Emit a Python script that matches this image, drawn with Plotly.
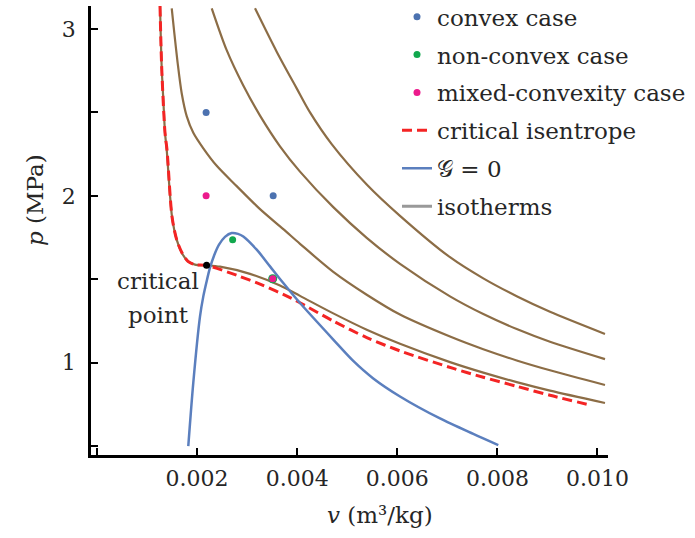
import plotly.graph_objects as go

# ---------------- data (v in m^3/kg, p in MPa) ----------------
v_iso_c = [0.001259, 0.001292, 0.001325, 0.001359, 0.001393, 0.001499, 0.001592, 0.001692,
           0.001818, 0.001958, 0.002192, 0.002458, 0.003057, 0.003656, 0.004056, 0.004721,
           0.005389, 0.006054, 0.007053, 0.007718, 0.008386, 0.009051, 0.010150]
p_iso_c = [3.138, 2.774, 2.575, 2.377, 2.275, 1.874, 1.737, 1.659,
           1.607, 1.587, 1.583, 1.575, 1.532, 1.462, 1.400, 1.295,
           1.197, 1.113, 1.003, 0.940, 0.883, 0.832, 0.758]

v_iso_2 = [0.001493, 0.001545, 0.001610, 0.001692, 0.001792, 0.001924, 0.002124, 0.002392,
           0.002791, 0.003257, 0.003722, 0.004056, 0.004721, 0.005389, 0.006054, 0.007053,
           0.007718, 0.008386, 0.009051, 0.010150]
p_iso_2 = [3.124, 2.976, 2.800, 2.615, 2.478, 2.378, 2.285, 2.180,
           2.058, 1.920, 1.800, 1.712, 1.544, 1.407, 1.288, 1.156,
           1.080, 1.013, 0.954, 0.866]

v_iso_3 = [0.002292, 0.002591, 0.002923, 0.003257, 0.003656, 0.004056, 0.004721, 0.005389,
           0.006054, 0.007053, 0.007718, 0.008386, 0.009051, 0.010150]
p_iso_3 = [3.124, 2.873, 2.661, 2.481, 2.297, 2.145, 1.932, 1.748,
           1.592, 1.397, 1.291, 1.201, 1.125, 1.021]

v_iso_4 = [0.003157, 0.003590, 0.003990, 0.004256, 0.004689, 0.005389, 0.006054, 0.007053,
           0.007718, 0.008386, 0.009051, 0.010150]
p_iso_4 = [3.124, 2.864, 2.644, 2.500, 2.310, 2.068, 1.880, 1.632,
           1.505, 1.398, 1.305, 1.172]

v_isentrope = [0.001259, 0.001292, 0.001359, 0.001399, 0.001499, 0.001592, 0.001698, 0.001818,
               0.001958, 0.002192, 0.002797, 0.003317, 0.003856, 0.004056, 0.004721, 0.005389,
               0.006054, 0.007119, 0.007718, 0.008386, 0.009051, 0.009850]
p_isentrope = [3.138, 2.774, 2.377, 2.275, 1.874, 1.737, 1.659, 1.607,
               1.587, 1.583, 1.523, 1.463, 1.390, 1.359, 1.249, 1.150,
               1.070, 0.965, 0.912, 0.858, 0.804, 0.746]

v_G0 = [0.001824, 0.001924, 0.002058, 0.002124, 0.002198, 0.002258, 0.002338, 0.002438,
        0.002557, 0.002691, 0.002817, 0.002923, 0.003191, 0.003457, 0.003722, 0.004056,
        0.004721, 0.005120, 0.005520, 0.006054, 0.006853, 0.007518, 0.008018]
p_G0 = [0.499, 0.880, 1.277, 1.397, 1.497, 1.569, 1.641, 1.707,
        1.754, 1.777, 1.772, 1.756, 1.677, 1.577, 1.477, 1.357,
        1.138, 1.010, 0.905, 0.797, 0.665, 0.572, 0.505]

v_convex = [0.00218, 0.00352]
p_convex = [2.50, 2.00]
v_nonconvex = [0.00271]
p_nonconvex = [1.737]
v_nonconvex_hidden = [0.00351]
p_nonconvex_hidden = [1.503]
v_mixed = [0.00218, 0.00351]
p_mixed = [2.00, 1.503]
v_crit = [0.00219]
p_crit = [1.583]

x_tickvals = [0.0, 0.002, 0.004, 0.006, 0.008, 0.010]
x_ticktext = ["", "0.002", "0.004", "0.006", "0.008", "0.010"]
y_tickvals = [0.5, 1.0, 1.5, 2.0, 2.5, 3.0]
y_ticktext = ["", "1", "", "2", "", "3"]

# ---------------- styles ----------------
FONT = "DejaVu Serif"
TXT = "#262626"
BROWN = "#8c6d46"
RED = "#f42424"
BLUE_LINE = "#5b7fbe"
BLUE_PT = "#4c72b0"
GREEN = "#11a84e"
MAGENTA = "#ec1a8c"

fig = go.Figure()

for vv, pp in [(v_iso_c, p_iso_c), (v_iso_2, p_iso_2), (v_iso_3, p_iso_3), (v_iso_4, p_iso_4)]:
    fig.add_trace(go.Scatter(x=vv, y=pp, mode="lines", line=dict(color=BROWN, width=2.2,
                             shape="spline", smoothing=0.8), showlegend=False, hoverinfo="skip"))

fig.add_trace(go.Scatter(x=v_isentrope, y=p_isentrope, mode="lines", name="critical isentrope",
                         line=dict(color=RED, width=3, dash="10px,5px", shape="spline", smoothing=0.8),
                         legendgroup="g4", legendrank=4))
fig.add_trace(go.Scatter(x=v_G0, y=p_G0, mode="lines", name="𝒢 = 0",
                         line=dict(color=BLUE_LINE, width=2.5, shape="spline", smoothing=0.8),
                         legendgroup="g5", legendrank=5))
fig.add_trace(go.Scatter(x=[None], y=[None], mode="lines", name="isotherms",
                         line=dict(color="#999999", width=3),
                         legendgroup="g6", legendrank=6))

fig.add_trace(go.Scatter(x=v_convex, y=p_convex, mode="markers", name="convex case",
                         marker=dict(color=BLUE_PT, size=7), legendgroup="g1", legendrank=1))
fig.add_trace(go.Scatter(x=v_nonconvex_hidden, y=p_nonconvex_hidden, mode="markers",
                         marker=dict(color=GREEN, size=9), showlegend=False))
fig.add_trace(go.Scatter(x=v_nonconvex, y=p_nonconvex, mode="markers", name="non-convex case",
                         marker=dict(color=GREEN, size=7), legendgroup="g2", legendrank=2))
fig.add_trace(go.Scatter(x=v_mixed, y=p_mixed, mode="markers", name="mixed-convexity case",
                         marker=dict(color=MAGENTA, size=7), legendgroup="g3", legendrank=3))
fig.add_trace(go.Scatter(x=v_crit, y=p_crit, mode="markers",
                         marker=dict(color="black", size=7), showlegend=False))

axis_common = dict(showline=True, linecolor="black", linewidth=2.5, ticks="inside",
                   ticklen=7, tickwidth=2, tickcolor="black", showgrid=False, zeroline=False,
                   tickfont=dict(family=FONT, size=22, color=TXT))

fig.update_xaxes(range=[-0.00012, 0.01021], tickvals=x_tickvals, ticktext=x_ticktext,
                 ticklabelstandoff=2, **axis_common)
fig.update_yaxes(range=[0.446, 3.138], tickvals=y_tickvals, ticktext=y_ticktext,
                 ticklabelstandoff=8, **axis_common)

fig.add_annotation(text="<i>v</i> (m³/kg)", xref="paper", yref="paper",
                   x=(380 - 91) / 517, y=-(515 - 455) / 449, showarrow=False,
                   font=dict(family=FONT, size=23, color=TXT), xanchor="center", yanchor="middle")
fig.add_annotation(text="<i>p</i> (MPa)", xref="paper", yref="paper",
                   x=-(91 - 35) / 517, y=(455 - 200) / 449, showarrow=False, textangle=-90,
                   font=dict(family=FONT, size=23, color=TXT), xanchor="center", yanchor="middle")
fig.add_annotation(text="critical", xref="paper", yref="paper",
                   x=(158 - 91) / 517, y=(455 - 281) / 449, showarrow=False,
                   font=dict(family=FONT, size=23, color=TXT), xanchor="center", yanchor="middle")
fig.add_annotation(text="point", xref="paper", yref="paper",
                   x=(158 - 91) / 517, y=(455 - 315) / 449, showarrow=False,
                   font=dict(family=FONT, size=23, color=TXT), xanchor="center", yanchor="middle")

fig.update_layout(
    width=695, height=538,
    margin=dict(l=91, r=87, t=6, b=83, autoexpand=False),
    plot_bgcolor="white", paper_bgcolor="white",
    legend=dict(x=(397 - 91) / 517, y=1.024, xanchor="left", yanchor="top",
                font=dict(family=FONT, size=23, color=TXT), bgcolor="rgba(0,0,0,0)",
                tracegroupgap=5, traceorder="grouped"),
    font=dict(family=FONT, color=TXT),
)

fig.write_html("out.html")
